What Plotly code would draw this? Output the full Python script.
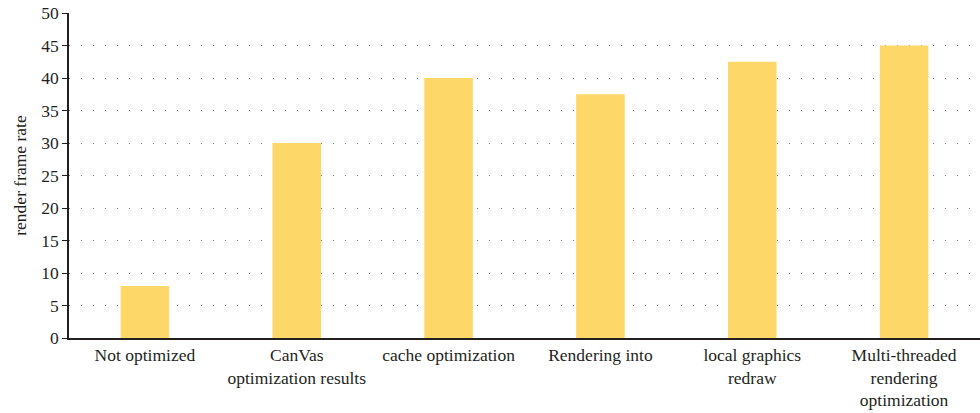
import plotly.graph_objects as go

categories = ["Not optimized", "CanVas<br>optimization results", "cache optimization",
              "Rendering into", "local graphics<br>redraw",
              "Multi-threaded<br>rendering<br>optimization"]
values = [8, 30, 40, 37.5, 42.5, 45]
y_ticks = [0, 5, 10, 15, 20, 25, 30, 35, 40, 45, 50]

fig = go.Figure(go.Bar(x=categories, y=values, marker_color="#FDD868", marker_line_width=0))
fig.update_layout(
    width=980, height=413,
    margin=dict(l=69, r=0, t=13, b=75),
    plot_bgcolor="white", paper_bgcolor="white",
    bargap=0.68,
    font=dict(family="Liberation Serif, DejaVu Serif, serif", size=17.5, color="#231f20"),
    showlegend=False,
)
fig.update_yaxes(
    range=[0, 50], tickvals=y_ticks, showline=True, linecolor="#231f20", linewidth=1.5,
    ticks="outside", ticklen=5, tickcolor="#231f20",
    showgrid=True, gridcolor="#777777", gridwidth=1, griddash="1px,11px",
    zeroline=False,
    title=dict(text="render frame rate", font=dict(size=17.5), standoff=10),
)
fig.update_xaxes(
    showline=True, linecolor="#231f20", linewidth=1.5, ticks="", showgrid=False,
    tickangle=0,
)
fig.write_html("out.html")
